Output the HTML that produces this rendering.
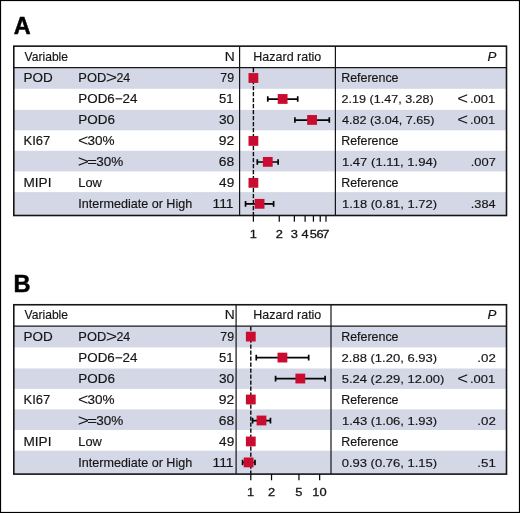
<!DOCTYPE html>
<html lang="en"><head><meta charset="utf-8"><title>Forest plots</title>
<style>
html,body{margin:0;padding:0;background:#fff;}
svg{display:block;will-change:transform;font-family:"Liberation Sans", sans-serif;font-size:12.1px;fill:#151515;}
svg text{stroke:#151515;stroke-width:0.16px;}
</style></head><body>
<svg width="520" height="513" viewBox="0 0 520 513">
<rect x="0" y="0" width="520" height="513" fill="#fff"/>
<rect x="13.8" y="68.05" width="492.70" height="20.75" fill="#d4d7e6"/>
<rect x="13.8" y="109.90" width="492.70" height="20.40" fill="#d4d7e6"/>
<rect x="13.8" y="150.80" width="492.70" height="20.60" fill="#d4d7e6"/>
<rect x="13.8" y="192.10" width="492.70" height="23.40" fill="#d4d7e6"/>
<text x="13.71" y="33.85" textLength="16.92" lengthAdjust="spacingAndGlyphs" font-size="24.4" font-weight="700" style="fill:#000;stroke:#000;stroke-width:0.5px">A</text>
<text x="24.54" y="60.70" textLength="43.50" lengthAdjust="spacingAndGlyphs">Variable</text>
<text x="224.66" y="60.70" textLength="9.97" lengthAdjust="spacingAndGlyphs">N</text>
<text x="253.37" y="60.70" textLength="67.95" lengthAdjust="spacingAndGlyphs">Hazard ratio</text>
<text x="487.60" y="60.70" textLength="8.89" lengthAdjust="spacingAndGlyphs" font-style="italic">P</text>
<line x1="253.4" y1="67.95" x2="253.4" y2="215.50" stroke="#0a0a0a" stroke-width="1.4" stroke-dasharray="4.2 1.8"/>
<text x="23.49" y="82.35" textLength="29.25" lengthAdjust="spacingAndGlyphs">POD</text>
<text x="78.34" y="82.35" textLength="27.87" lengthAdjust="spacingAndGlyphs">POD</text>
<text x="105.72" y="83.22" textLength="11.44" lengthAdjust="spacingAndGlyphs" font-size="16.5" style="stroke:none">&gt;</text>
<text x="116.48" y="82.35" textLength="13.79" lengthAdjust="spacingAndGlyphs">24</text>
<text x="220.35" y="82.35" textLength="13.73" lengthAdjust="spacingAndGlyphs" font-size="11.9">79</text>
<text x="341.17" y="82.35" textLength="57.37" lengthAdjust="spacingAndGlyphs">Reference</text>
<rect x="248.50" y="73.10" width="9.8" height="9.8" fill="#c90c2f"/>
<text x="78.29" y="103.32" textLength="59.20" lengthAdjust="spacingAndGlyphs">POD6−24</text>
<text x="219.08" y="103.32" textLength="14.47" lengthAdjust="spacingAndGlyphs" font-size="11.9">51</text>
<text x="341.57" y="103.32" textLength="92.23" lengthAdjust="spacingAndGlyphs" font-size="11.6">2.19 (1.47, 3.28)</text>
<text x="457.27" y="104.19" textLength="10.84" lengthAdjust="spacingAndGlyphs" font-size="16.5" style="stroke:none">&lt;</text>
<text x="470.00" y="103.32" textLength="25.23" lengthAdjust="spacingAndGlyphs" font-size="11.6">.001</text>
<path d="M267.77 99.07H297.71M267.77 96.27v5.6M297.71 96.27v5.6" stroke="#050505" stroke-width="1.7" fill="none"/>
<rect x="277.74" y="94.07" width="9.8" height="9.8" fill="#c90c2f"/>
<text x="78.29" y="124.29" textLength="36.59" lengthAdjust="spacingAndGlyphs">POD6</text>
<text x="218.99" y="124.29" textLength="15.26" lengthAdjust="spacingAndGlyphs" font-size="11.9">30</text>
<text x="341.92" y="124.29" textLength="92.59" lengthAdjust="spacingAndGlyphs" font-size="11.6">4.82 (3.04, 7.65)</text>
<text x="457.27" y="125.16" textLength="10.84" lengthAdjust="spacingAndGlyphs" font-size="16.5" style="stroke:none">&lt;</text>
<text x="470.00" y="124.29" textLength="25.23" lengthAdjust="spacingAndGlyphs" font-size="11.6">.001</text>
<path d="M294.87 120.04H329.29M294.87 117.24v5.6M329.29 117.24v5.6" stroke="#050505" stroke-width="1.7" fill="none"/>
<rect x="307.16" y="115.04" width="9.8" height="9.8" fill="#c90c2f"/>
<text x="23.53" y="145.26" textLength="26.75" lengthAdjust="spacingAndGlyphs">KI67</text>
<text x="77.91" y="146.13" textLength="10.36" lengthAdjust="spacingAndGlyphs" font-size="16.5" style="stroke:none">&lt;</text>
<text x="87.49" y="145.26" textLength="27.10" lengthAdjust="spacingAndGlyphs">30%</text>
<text x="218.84" y="145.26" textLength="15.49" lengthAdjust="spacingAndGlyphs" font-size="11.9">92</text>
<text x="341.17" y="145.26" textLength="57.37" lengthAdjust="spacingAndGlyphs">Reference</text>
<rect x="248.50" y="136.01" width="9.8" height="9.8" fill="#c90c2f"/>
<text x="77.84" y="167.10" textLength="11.20" lengthAdjust="spacingAndGlyphs" font-size="16.5" style="stroke:none">&gt;</text>
<text x="87.18" y="166.23" textLength="9.63" lengthAdjust="spacingAndGlyphs">=</text>
<text x="96.19" y="166.23" textLength="27.00" lengthAdjust="spacingAndGlyphs">30%</text>
<text x="218.81" y="166.23" textLength="15.41" lengthAdjust="spacingAndGlyphs" font-size="11.9">68</text>
<text x="341.92" y="166.23" textLength="95.19" lengthAdjust="spacingAndGlyphs" font-size="11.6">1.47 (1.11, 1.94)</text>
<text x="470.81" y="166.23" textLength="25.05" lengthAdjust="spacingAndGlyphs" font-size="11.6">.007</text>
<path d="M257.29 161.98H278.12M257.29 159.18v5.6M278.12 159.18v5.6" stroke="#050505" stroke-width="1.7" fill="none"/>
<rect x="262.87" y="156.98" width="9.8" height="9.8" fill="#c90c2f"/>
<text x="23.48" y="187.20" textLength="27.99" lengthAdjust="spacingAndGlyphs">MIPI</text>
<text x="78.34" y="187.20" textLength="23.52" lengthAdjust="spacingAndGlyphs">Low</text>
<text x="219.09" y="187.20" textLength="15.15" lengthAdjust="spacingAndGlyphs" font-size="11.9">49</text>
<text x="341.17" y="187.20" textLength="57.37" lengthAdjust="spacingAndGlyphs">Reference</text>
<rect x="248.50" y="177.95" width="9.8" height="9.8" fill="#c90c2f"/>
<text x="78.24" y="208.17" textLength="113.99" lengthAdjust="spacingAndGlyphs">Intermediate or High</text>
<text x="212.56" y="208.17" textLength="20.99" lengthAdjust="spacingAndGlyphs" font-size="11.9">111</text>
<text x="341.93" y="208.17" textLength="95.20" lengthAdjust="spacingAndGlyphs" font-size="11.6">1.18 (0.81, 1.72)</text>
<text x="470.82" y="208.17" textLength="24.74" lengthAdjust="spacingAndGlyphs" font-size="11.6">.384</text>
<path d="M245.54 203.92H273.63M245.54 201.12v5.6M273.63 201.12v5.6" stroke="#050505" stroke-width="1.7" fill="none"/>
<rect x="254.67" y="198.92" width="9.8" height="9.8" fill="#c90c2f"/>
<rect x="13.8" y="46.15" width="492.70" height="169.35" fill="none" stroke="#151515" stroke-width="1.6"/>
<line x1="13.8" y1="67.55" x2="506.5" y2="67.55" stroke="#151515" stroke-width="1.3"/>
<line x1="239.6" y1="46.15" x2="239.6" y2="215.50" stroke="#151515" stroke-width="1.2"/>
<line x1="335.4" y1="46.15" x2="335.4" y2="215.50" stroke="#151515" stroke-width="1.2"/>
<line x1="253.40" y1="215.50" x2="253.40" y2="221.70" stroke="#0a0a0a" stroke-width="1.25"/>
<text style="stroke-width:0.3px" x="249.65" y="237.80" textLength="7.16" lengthAdjust="spacingAndGlyphs" font-size="11.7">1</text>
<line x1="279.25" y1="215.50" x2="279.25" y2="221.70" stroke="#0a0a0a" stroke-width="1.25"/>
<text style="stroke-width:0.3px" x="275.68" y="237.80" textLength="7.16" lengthAdjust="spacingAndGlyphs" font-size="11.7">2</text>
<line x1="294.38" y1="215.50" x2="294.38" y2="221.70" stroke="#0a0a0a" stroke-width="1.25"/>
<text style="stroke-width:0.3px" x="290.84" y="237.80" textLength="7.16" lengthAdjust="spacingAndGlyphs" font-size="11.7">3</text>
<line x1="305.11" y1="215.50" x2="305.11" y2="221.70" stroke="#0a0a0a" stroke-width="1.25"/>
<text style="stroke-width:0.3px" x="301.57" y="237.80" textLength="7.16" lengthAdjust="spacingAndGlyphs" font-size="11.7">4</text>
<line x1="313.43" y1="215.50" x2="313.43" y2="221.70" stroke="#0a0a0a" stroke-width="1.25"/>
<text style="stroke-width:0.3px" x="309.86" y="237.80" textLength="7.16" lengthAdjust="spacingAndGlyphs" font-size="11.7">5</text>
<line x1="320.23" y1="215.50" x2="320.23" y2="221.70" stroke="#0a0a0a" stroke-width="1.25"/>
<text style="stroke-width:0.3px" x="316.61" y="237.80" textLength="7.16" lengthAdjust="spacingAndGlyphs" font-size="11.7">6</text>
<line x1="325.98" y1="215.50" x2="325.98" y2="221.70" stroke="#0a0a0a" stroke-width="1.25"/>
<text style="stroke-width:0.3px" x="322.39" y="237.80" textLength="7.16" lengthAdjust="spacingAndGlyphs" font-size="11.7">7</text>
<rect x="13.8" y="326.65" width="492.70" height="20.75" fill="#d4d7e6"/>
<rect x="13.8" y="368.50" width="492.70" height="20.40" fill="#d4d7e6"/>
<rect x="13.8" y="409.40" width="492.70" height="20.60" fill="#d4d7e6"/>
<rect x="13.8" y="450.70" width="492.70" height="23.40" fill="#d4d7e6"/>
<text x="13.61" y="292.45" textLength="17.05" lengthAdjust="spacingAndGlyphs" font-size="24.4" font-weight="700" style="fill:#000;stroke:#000;stroke-width:0.5px">B</text>
<text x="24.54" y="319.30" textLength="43.50" lengthAdjust="spacingAndGlyphs">Variable</text>
<text x="224.66" y="319.30" textLength="9.97" lengthAdjust="spacingAndGlyphs">N</text>
<text x="253.37" y="319.30" textLength="67.95" lengthAdjust="spacingAndGlyphs">Hazard ratio</text>
<text x="487.60" y="319.30" textLength="8.89" lengthAdjust="spacingAndGlyphs" font-style="italic">P</text>
<line x1="250.8" y1="326.55" x2="250.8" y2="474.10" stroke="#0a0a0a" stroke-width="1.4" stroke-dasharray="4.2 1.8"/>
<text x="23.49" y="340.95" textLength="29.25" lengthAdjust="spacingAndGlyphs">POD</text>
<text x="78.34" y="340.95" textLength="27.87" lengthAdjust="spacingAndGlyphs">POD</text>
<text x="105.72" y="341.82" textLength="11.44" lengthAdjust="spacingAndGlyphs" font-size="16.5" style="stroke:none">&gt;</text>
<text x="116.48" y="340.95" textLength="13.79" lengthAdjust="spacingAndGlyphs">24</text>
<text x="220.35" y="340.95" textLength="13.73" lengthAdjust="spacingAndGlyphs" font-size="11.9">79</text>
<text x="341.17" y="340.95" textLength="57.37" lengthAdjust="spacingAndGlyphs">Reference</text>
<rect x="245.90" y="331.70" width="9.8" height="9.8" fill="#c90c2f"/>
<text x="78.29" y="361.92" textLength="59.20" lengthAdjust="spacingAndGlyphs">POD6−24</text>
<text x="219.08" y="361.92" textLength="14.47" lengthAdjust="spacingAndGlyphs" font-size="11.9">51</text>
<text x="341.55" y="361.92" textLength="95.58" lengthAdjust="spacingAndGlyphs" font-size="11.6">2.88 (1.20, 6.93)</text>
<text x="477.37" y="361.92" textLength="18.50" lengthAdjust="spacingAndGlyphs" font-size="11.6">.02</text>
<path d="M256.25 357.67H308.68M256.25 354.87v5.6M308.68 354.87v5.6" stroke="#050505" stroke-width="1.7" fill="none"/>
<rect x="277.53" y="352.67" width="9.8" height="9.8" fill="#c90c2f"/>
<text x="78.29" y="382.89" textLength="36.59" lengthAdjust="spacingAndGlyphs">POD6</text>
<text x="218.99" y="382.89" textLength="15.26" lengthAdjust="spacingAndGlyphs" font-size="11.9">30</text>
<text x="341.68" y="382.89" textLength="102.63" lengthAdjust="spacingAndGlyphs" font-size="11.6">5.24 (2.29, 12.00)</text>
<text x="457.27" y="383.76" textLength="10.84" lengthAdjust="spacingAndGlyphs" font-size="16.5" style="stroke:none">&lt;</text>
<text x="470.00" y="382.89" textLength="25.23" lengthAdjust="spacingAndGlyphs" font-size="11.6">.001</text>
<path d="M275.57 378.64H325.10M275.57 375.84v5.6M325.10 375.84v5.6" stroke="#050505" stroke-width="1.7" fill="none"/>
<rect x="295.42" y="373.64" width="9.8" height="9.8" fill="#c90c2f"/>
<text x="23.53" y="403.86" textLength="26.75" lengthAdjust="spacingAndGlyphs">KI67</text>
<text x="77.91" y="404.73" textLength="10.36" lengthAdjust="spacingAndGlyphs" font-size="16.5" style="stroke:none">&lt;</text>
<text x="87.49" y="403.86" textLength="27.10" lengthAdjust="spacingAndGlyphs">30%</text>
<text x="218.84" y="403.86" textLength="15.49" lengthAdjust="spacingAndGlyphs" font-size="11.9">92</text>
<text x="341.17" y="403.86" textLength="57.37" lengthAdjust="spacingAndGlyphs">Reference</text>
<rect x="245.90" y="394.61" width="9.8" height="9.8" fill="#c90c2f"/>
<text x="77.84" y="425.70" textLength="11.20" lengthAdjust="spacingAndGlyphs" font-size="16.5" style="stroke:none">&gt;</text>
<text x="87.18" y="424.83" textLength="9.63" lengthAdjust="spacingAndGlyphs">=</text>
<text x="96.19" y="424.83" textLength="27.00" lengthAdjust="spacingAndGlyphs">30%</text>
<text x="218.81" y="424.83" textLength="15.41" lengthAdjust="spacingAndGlyphs" font-size="11.9">68</text>
<text x="341.93" y="424.83" textLength="95.20" lengthAdjust="spacingAndGlyphs" font-size="11.6">1.43 (1.06, 1.93)</text>
<text x="477.37" y="424.83" textLength="18.50" lengthAdjust="spacingAndGlyphs" font-size="11.6">.02</text>
<path d="M252.54 420.58H270.46M252.54 417.78v5.6M270.46 417.78v5.6" stroke="#050505" stroke-width="1.7" fill="none"/>
<rect x="256.59" y="415.58" width="9.8" height="9.8" fill="#c90c2f"/>
<text x="23.48" y="445.80" textLength="27.99" lengthAdjust="spacingAndGlyphs">MIPI</text>
<text x="78.34" y="445.80" textLength="23.52" lengthAdjust="spacingAndGlyphs">Low</text>
<text x="219.09" y="445.80" textLength="15.15" lengthAdjust="spacingAndGlyphs" font-size="11.9">49</text>
<text x="341.17" y="445.80" textLength="57.37" lengthAdjust="spacingAndGlyphs">Reference</text>
<rect x="245.90" y="436.55" width="9.8" height="9.8" fill="#c90c2f"/>
<text x="78.24" y="466.77" textLength="113.99" lengthAdjust="spacingAndGlyphs">Intermediate or High</text>
<text x="212.56" y="466.77" textLength="20.99" lengthAdjust="spacingAndGlyphs" font-size="11.9">111</text>
<text x="341.68" y="466.77" textLength="95.45" lengthAdjust="spacingAndGlyphs" font-size="11.6">0.93 (0.76, 1.15)</text>
<text x="477.37" y="466.77" textLength="18.46" lengthAdjust="spacingAndGlyphs" font-size="11.6">.51</text>
<path d="M242.59 462.52H254.98M242.59 459.72v5.6M254.98 459.72v5.6" stroke="#050505" stroke-width="1.7" fill="none"/>
<rect x="243.73" y="457.52" width="9.8" height="9.8" fill="#c90c2f"/>
<rect x="13.8" y="304.75" width="492.70" height="169.35" fill="none" stroke="#151515" stroke-width="1.6"/>
<line x1="13.8" y1="326.15" x2="506.5" y2="326.15" stroke="#151515" stroke-width="1.3"/>
<line x1="236.1" y1="304.75" x2="236.1" y2="474.10" stroke="#151515" stroke-width="1.2"/>
<line x1="331.0" y1="304.75" x2="331.0" y2="474.10" stroke="#151515" stroke-width="1.2"/>
<line x1="250.80" y1="474.10" x2="250.80" y2="480.30" stroke="#0a0a0a" stroke-width="1.25"/>
<text style="stroke-width:0.3px" x="247.05" y="495.90" textLength="7.16" lengthAdjust="spacingAndGlyphs" font-size="11.7">1</text>
<line x1="271.53" y1="474.10" x2="271.53" y2="480.30" stroke="#0a0a0a" stroke-width="1.25"/>
<text style="stroke-width:0.3px" x="267.95" y="495.90" textLength="7.16" lengthAdjust="spacingAndGlyphs" font-size="11.7">2</text>
<line x1="298.92" y1="474.10" x2="298.92" y2="480.30" stroke="#0a0a0a" stroke-width="1.25"/>
<text style="stroke-width:0.3px" x="295.35" y="495.90" textLength="7.16" lengthAdjust="spacingAndGlyphs" font-size="11.7">5</text>
<line x1="319.65" y1="474.10" x2="319.65" y2="480.30" stroke="#0a0a0a" stroke-width="1.25"/>
<text style="stroke-width:0.3px" x="312.26" y="495.90" textLength="14.32" lengthAdjust="spacingAndGlyphs" font-size="11.7">10</text>
<rect x="0.55" y="0.55" width="518.9" height="511.9" fill="none" stroke="#000" stroke-width="1.1"/>
</svg>
</body></html>
